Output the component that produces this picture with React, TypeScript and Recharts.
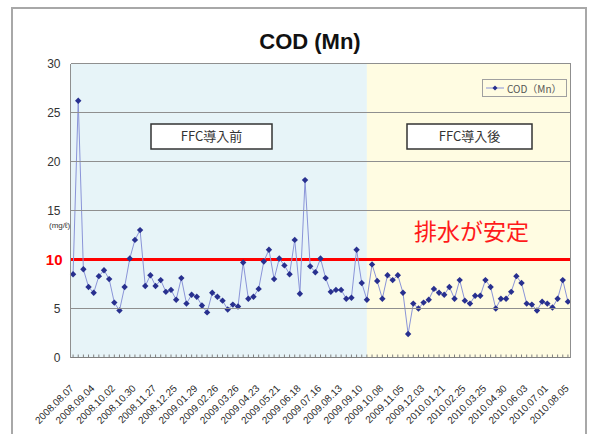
import { Legend, Line, LineChart, ReferenceArea, ReferenceLine, XAxis, YAxis } from "recharts"

// one label every 4 samples
const tickDates = [
  "2008.08.07", "2008.09.04", "2008.10.02", "2008.10.30", "2008.11.27", "2008.12.25",
  "2009.01.29", "2009.02.26", "2009.03.26", "2009.04.23", "2009.05.21", "2009.06.18",
  "2009.07.16", "2009.08.13", "2009.09.10", "2009.10.08", "2009.11.05", "2009.12.03",
  "2010.01.21", "2010.02.25", "2010.03.25", "2010.04.30", "2010.06.03", "2010.07.01",
  "2010.08.05",
]

const codValues = [
  8.5, 26.2, 9.0, 7.2, 6.6, 8.3, 8.9, 8.0, 5.6, 4.8,
  7.2, 10.1, 12.0, 13.0, 7.3, 8.4, 7.3, 7.9, 6.7, 6.9,
  5.9, 8.1, 5.5, 6.4, 6.2, 5.3, 4.6, 6.6, 6.2, 5.8,
  4.9, 5.4, 5.2, 9.7, 6.0, 6.2, 7.0, 9.8, 11.0, 8.0,
  10.1, 9.4, 8.5, 12.0, 6.5, 18.1, 9.3, 8.7, 10.1, 8.1,
  6.7, 6.9, 6.9, 6.0, 6.1, 11.0, 7.6, 5.9, 9.5, 7.8,
  6.0, 8.4, 7.9, 8.4, 6.6, 2.4, 5.5, 5.0, 5.6, 5.9,
  7.0, 6.6, 6.4, 7.2, 6.0, 7.9, 5.8, 5.5, 6.3, 6.3,
  7.9, 7.2, 5.0, 6.0, 6.0, 6.7, 8.3, 7.6, 5.5, 5.4,
  4.8, 5.7, 5.5, 5.1, 6.0, 7.9, 5.7,
]

const yTicks = [0, 5, 10, 15, 20, 25, 30]
const Y_MAX = 30
const LIMIT = 10
const INTRO_INDEX = 57 // FFC introduced here
const SERIES_NAME = "COD（Mn）"

const data = codValues.map((cod, i) => ({
  i,
  cod,
  label: i % 4 === 0 ? tickDates[i / 4] : "",
}))

const NARROW = "'Liberation Sans Narrow', 'Arial Narrow', 'Liberation Sans', Arial, sans-serif"
const JP = "'Noto Sans CJK JP', 'Noto Sans', sans-serif"

const W = 589
const H = 434
// half-pixel offsets keep the 1px grid lines crisp
const MARGIN = { top: 63.5, right: 18.5, bottom: 6.5, left: 30.5 }
const Y_AXIS_W = 40
const X_AXIS_H = 70
const PLOT_LEFT = MARGIN.left + Y_AXIS_W
const PLOT_W = W - MARGIN.left - MARGIN.right - Y_AXIS_W
const PLOT_H = H - MARGIN.top - MARGIN.bottom - X_AXIS_H
const X_DOMAIN = [-0.5, codValues.length - 0.5]
const GRID = "#8f8f8f"

// same linear mapping as the chart's y axis, used for the grid overlay
const yPos = (v: number) => MARGIN.top + PLOT_H * (1 - v / Y_MAX)

const XTick = ({ x, y, payload }: any) => {
  const label = data[payload.value]?.label
  return (
    <g>
      <line x1={x} x2={x} y1={y} y2={y - 3} stroke="#808080" />
      {label ? (
        <text
          x={x - 1}
          y={y + 29}
          dy="0.35em"
          textAnchor="end"
          transform={`rotate(-45 ${x - 1} ${y + 29})`}
          fontSize={10}
          fontFamily={NARROW}
          fill="#2a2a2a"
        >
          {label}
        </text>
      ) : null}
    </g>
  )
}

const YTick = ({ x, y, payload }: any) => {
  const isLimit = payload.value === LIMIT
  return (
    <text
      x={isLimit ? x + 2 : x}
      y={y}
      dy="0.35em"
      textAnchor="end"
      fontSize={isLimit ? 15 : 12}
      fontWeight={isLimit ? "bold" : "normal"}
      fontFamily={isLimit ? "'Liberation Sans', Arial, sans-serif" : NARROW}
      fill={isLimit ? "#ff0000" : "#333333"}
    >
      {payload.value}
    </text>
  )
}

const Diamond = (props: any) => {
  const { cx, cy, index } = props
  if (cx == null || cy == null) return <g key={index} />
  const r = 3.2
  return (
    <path
      key={index}
      d={`M${cx},${cy - r}L${cx + r},${cy}L${cx},${cy + r}L${cx - r},${cy}Z`}
      fill="#28308f"
    />
  )
}

const LegendBox = () => (
  <div
    style={{
      width: 83,
      height: 16,
      border: "1px solid #a0a0a0",
      display: "flex",
      alignItems: "center",
      fontFamily: JP,
      fontSize: 10,
      color: "#555",
      boxSizing: "content-box",
    }}
  >
    <svg width={24} height={16}>
      <line x1={3} x2={21} y1={8} y2={8} stroke="#8a94d8" />
      <path d="M12,5.5L14.5,8L12,10.5L9.5,8Z" fill="#28308f" />
    </svg>
    <span>{SERIES_NAME}</span>
  </div>
)

export default function App() {
  return (
    <div style={{ position: "absolute", left: 0, top: 0, width: W, height: H, background: "#fff", overflow: "hidden" }}>
      {/* outer chart frame */}
      <div
        style={{
          position: "absolute",
          left: 11,
          top: 7,
          width: 572,
          height: 460,
          border: "2px solid #a8a8a8",
        }}
      />
      <div style={{ position: "absolute", left: 0, top: 0 }}>
        <LineChart width={W} height={H} data={data} margin={MARGIN}>
          {/* before / after FFC panels */}
          <ReferenceArea x1={X_DOMAIN[0]} x2={INTRO_INDEX} y1={0} y2={Y_MAX} fill="#e7f4f8" fillOpacity={1} stroke="none" />
          <ReferenceArea x1={INTRO_INDEX} x2={X_DOMAIN[1]} y1={0} y2={Y_MAX} fill="#fffce2" fillOpacity={1} stroke="none" />
          <XAxis
            type="number"
            dataKey="i"
            domain={X_DOMAIN}
            ticks={data.map((d) => d.i)}
            interval={0}
            tick={<XTick />}
            tickLine={false}
            tickSize={0}
            tickMargin={0}
            height={X_AXIS_H}
            stroke="#808080"
          />
          <YAxis
            domain={[0, Y_MAX]}
            ticks={yTicks}
            interval={0}
            width={Y_AXIS_W}
            tick={<YTick />}
            tickLine={false}
            axisLine={false}
            tickSize={0}
            tickMargin={10}
          />
          <ReferenceLine y={LIMIT} stroke="#ff0000" strokeWidth={3} />
          <Line
            type="linear"
            dataKey="cod"
            name={SERIES_NAME}
            stroke="#8a94d8"
            strokeWidth={1}
            dot={Diamond}
            activeDot={false}
            isAnimationActive={false}
          />
          <Legend
            layout="vertical"
            align="center"
            verticalAlign="middle"
            wrapperStyle={{ left: 482, top: 79, width: 85 }}
            content={<LegendBox />}
          />
        </LineChart>
      </div>
      <svg width={W} height={H} style={{ position: "absolute", left: 0, top: 0, pointerEvents: "none" }}>
        {/* grid lines and plot frame */}
        {yTicks
          .filter((t) => t > 0 && t !== LIMIT)
          .map((t) => (
            <line
              key={t}
              x1={PLOT_LEFT}
              x2={PLOT_LEFT + PLOT_W}
              y1={yPos(t)}
              y2={yPos(t)}
              stroke={GRID}
              shapeRendering="crispEdges"
            />
          ))}
        <line x1={PLOT_LEFT} x2={PLOT_LEFT} y1={yPos(Y_MAX)} y2={yPos(0)} stroke={GRID} shapeRendering="crispEdges" />
        <line x1={PLOT_LEFT + PLOT_W} x2={PLOT_LEFT + PLOT_W} y1={yPos(Y_MAX)} y2={yPos(0)} stroke={GRID} shapeRendering="crispEdges" />

        <text x={310} y={49} textAnchor="middle" fontSize={22} fontWeight="bold" fontFamily="'Liberation Sans', Arial, sans-serif" fill="#111">
          COD (Mn)
        </text>
        <text x={49} y={228} fontSize={8} fontFamily={NARROW} fill="#333">
          (mg/ℓ)
        </text>
        <rect x={151} y={124} width={121} height={25} fill="#fff" stroke="#333" strokeWidth={1.5} />
        <text x={211.5} y={136.5} dy="0.35em" textAnchor="middle" fontSize={13} fontFamily={JP} fill="#333">
          FFC導入前
        </text>
        <rect x={407} y={124} width={125} height={25} fill="#fff" stroke="#333" strokeWidth={1.5} />
        <text x={469.5} y={136.5} dy="0.35em" textAnchor="middle" fontSize={13} fontFamily={JP} fill="#333">
          FFC導入後
        </text>
        <text x={414} y={240} fontSize={23} fontFamily={JP} fill="#ff1a1a">
          排水が安定
        </text>
      </svg>
    </div>
  )
}
